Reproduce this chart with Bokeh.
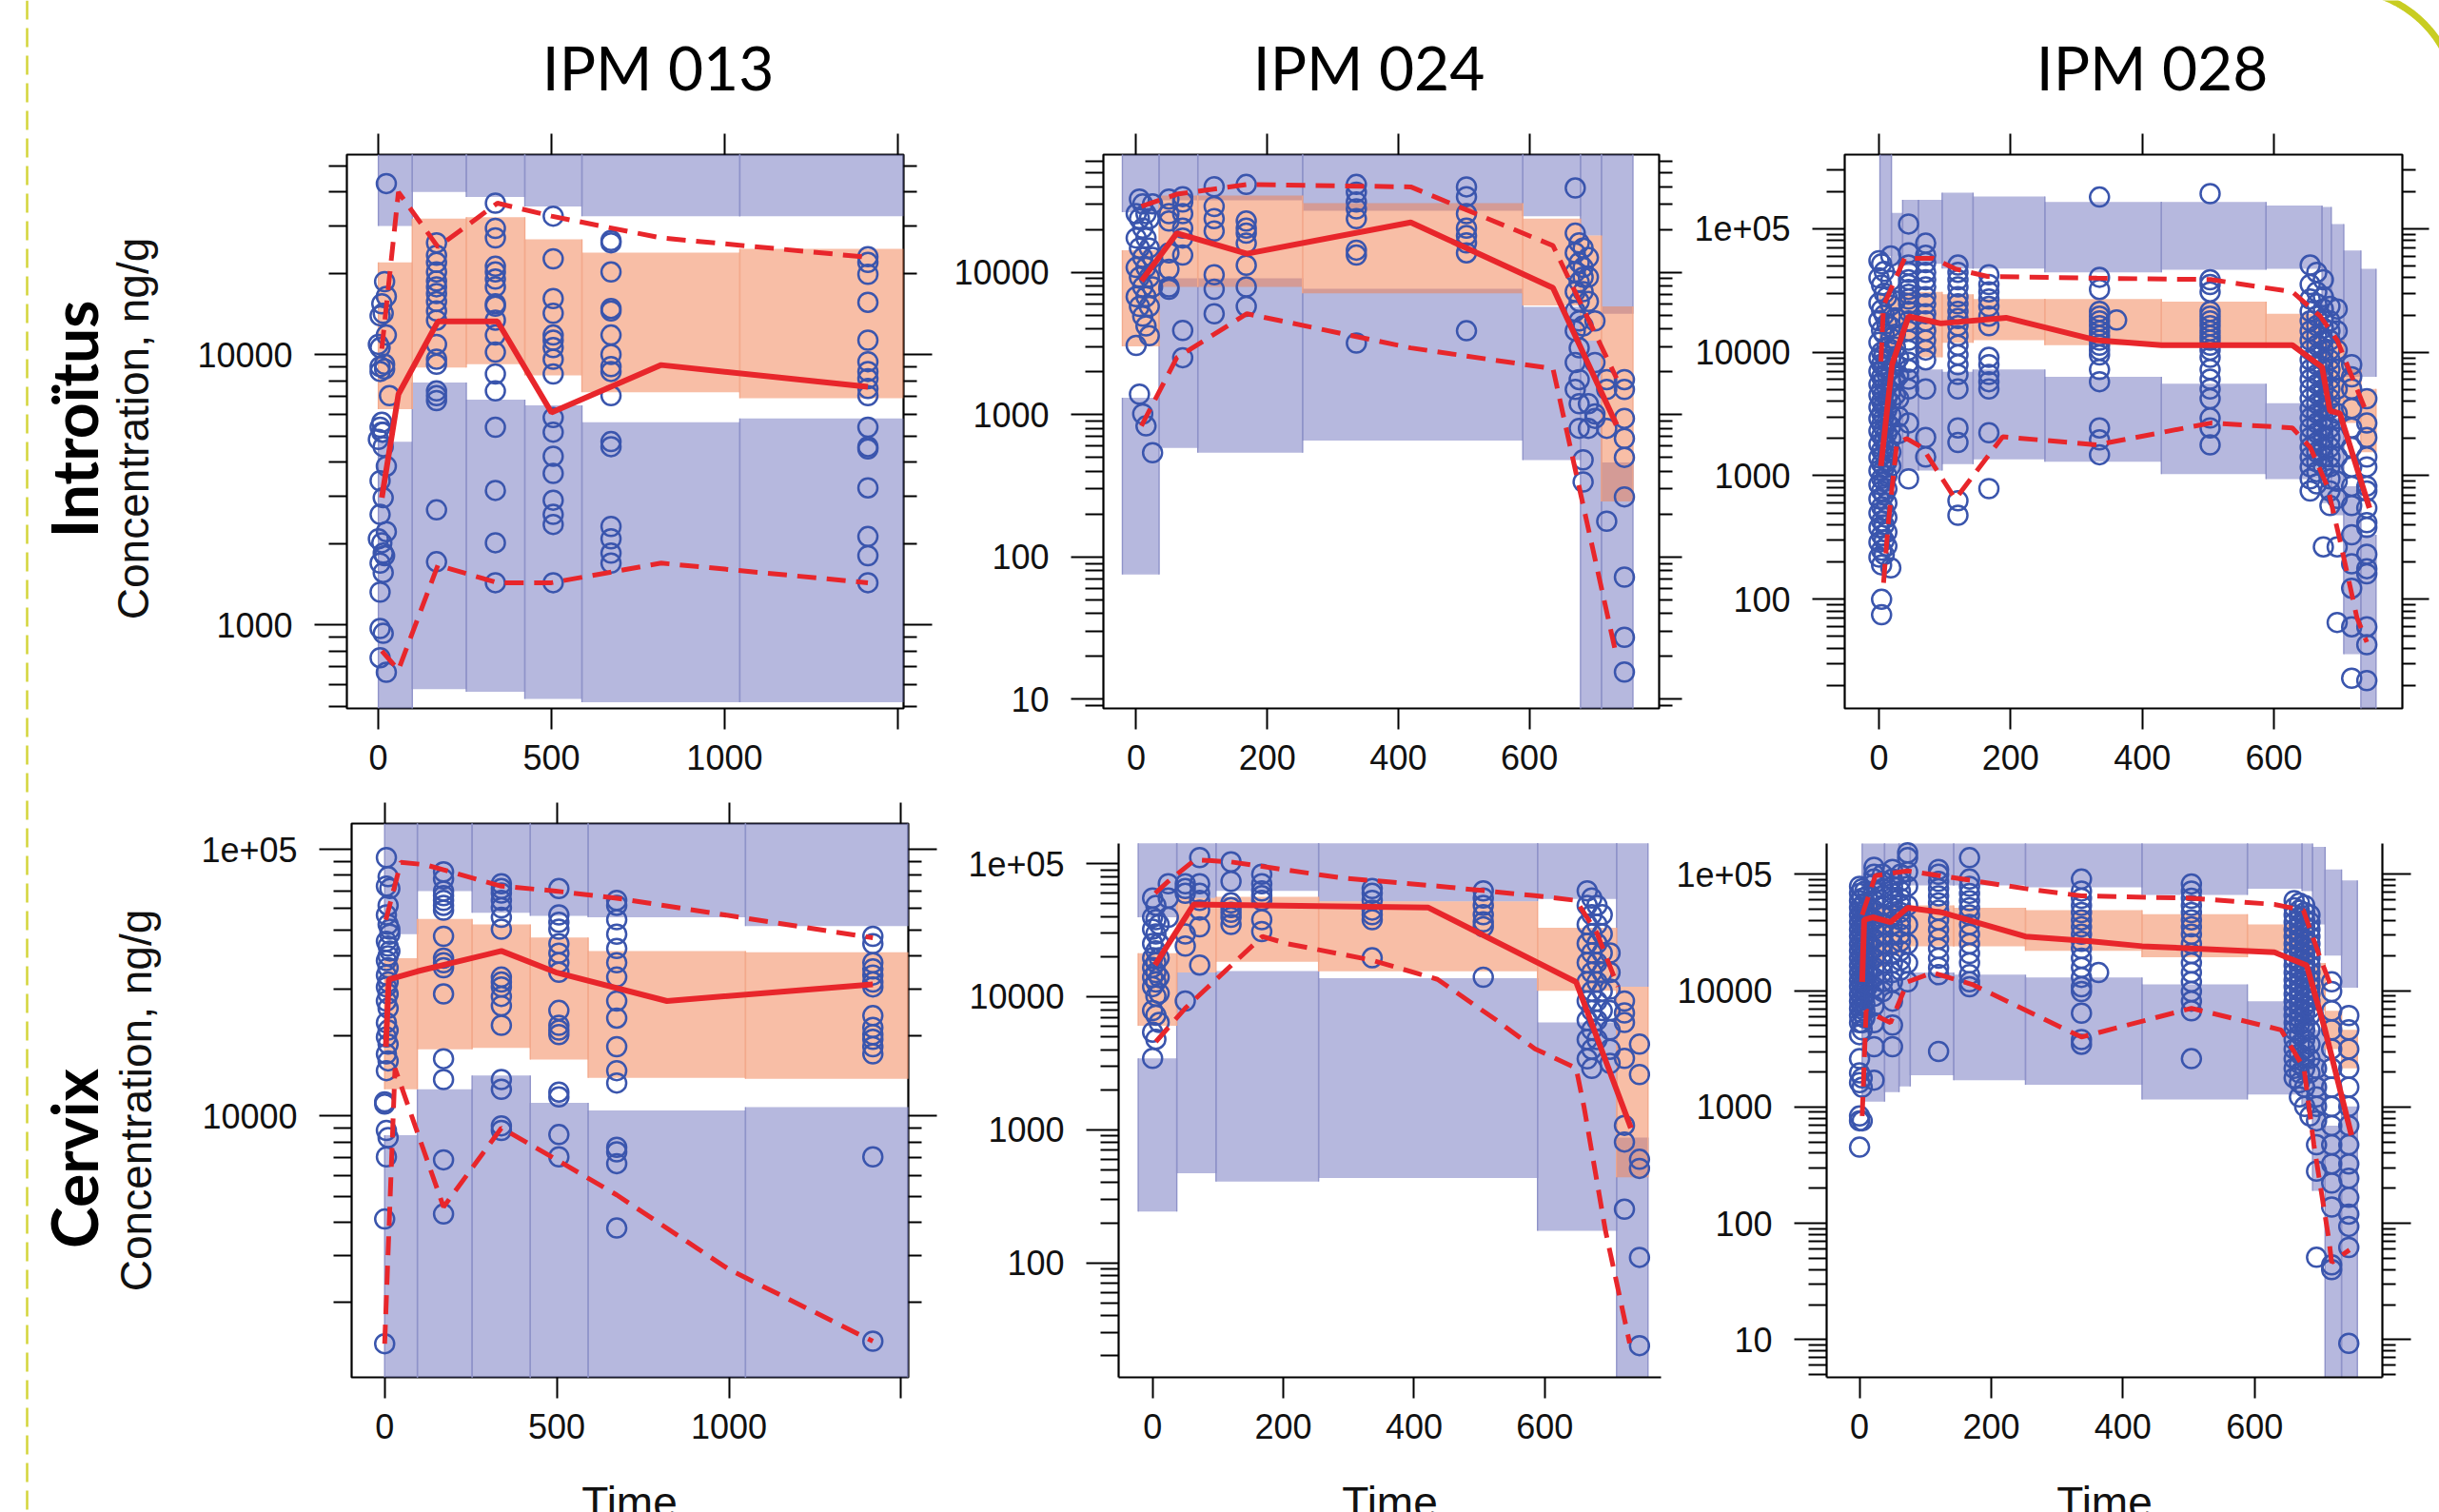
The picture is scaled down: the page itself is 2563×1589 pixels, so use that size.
import math
from bokeh.plotting import figure
from bokeh.models import Range1d, LogAxis, LinearAxis, FixedTicker
from bokeh.layouts import row, column
from bokeh.embed import file_html
from bokeh.resources import INLINE
from bokeh.core.properties import value

# ---------------- labels ----------------
STUDIES = ["IPM 013", "IPM 024", "IPM 028"]
COMPARTMENTS = ["Introïtus", "Cervix"]
Y_TITLE = "Concentration, ng/g"
X_TITLE = "Time"

# ---------------- Panel 1 : Introitus / IPM 013 ----------------
P1_x_range = (-91, 1517)
P1_y_range = (490, 54900)
P1_y_axis_top = 54900
P1_x_ticks = [0, 500, 1000, 1500]
P1_x_labels = ["0", "500", "1000", ""]
P1_y_ticks = [1000, 10000]
P1_y_labels = ["1000", "10000"]
P1_bins = [0, 98, 254, 423, 588, 1044, 1520]
P1_hi_top = [None, None, None, None, None, None]
P1_hi_bot = [29900, 39900, 38300, 35300, 32500, 32500]
P1_mid_top = [21900, 31800, 32200, 26700, 23800, 24600]
P1_mid_bot = [6270, 8950, 9210, 8370, 7250, 6890]
P1_lo_top = [4750, 7870, 6810, 6480, 5610, 5800]
P1_lo_bot = [None, 577, 565, 531, 516, 516]
P1_med_t = [10, 58, 172, 344, 500, 817, 1414]
P1_med_c = [2950, 7130, 13250, 13250, 6100, 9140, 7590]
P1_p95_t = [10, 58, 172, 344, 500, 817, 1414]
P1_p95_c = [10500, 39900, 25000, 36300, 32500, 27000, 22900]
P1_p05_t = [10, 58, 172, 344, 500, 817, 1414]
P1_p05_c = [800, 680, 1660, 1430, 1430, 1690, 1430]
P1_obs = [
    (0, [10900, 4850, 2080]),
    (5, [13900, 10600, 8650, 5380, 3410, 2560, 1690, 1320, 968, 755, 9020]),
    (10, [5610, 15400, 5160, 2010]),
    (14, [14200, 5160, 4560, 2950, 1840, 1560, 929]),
    (18, [18600, 8840, 9200, 1800]),
    (23, [42900, 16400, 11800, 3860, 2210, 667]),
    (32, [7040]),
    (168, [25900, 23300, 21900, 20200, 18700, 17800, 16800, 15700, 14500, 13400, 10900, 9600, 9200, 7330, 7040, 6750, 2660, 1710]),
    (338, [36300, 29300, 27000, 21200, 20200, 19000, 17800, 15400, 15100, 13400, 11800, 10200, 8470, 7330, 5380, 3140, 2010, 1430]),
    (505, [32500, 22600, 16100, 14200, 11800, 11300, 10600, 9600, 8470, 5840, 5160, 4200, 3630, 2890, 2560, 2350, 1430]),
    (672, [26400, 25900, 20200, 14800, 14500, 11800, 10000, 9020, 8650, 7040, 4760, 4560, 2310, 2080, 1840, 1690]),
    (1414, [23000, 21900, 19800, 15600, 11300, 9400, 8650, 8130, 7480, 7040, 5380, 4560, 4470, 3210, 2120, 1800, 1430]),
]

# ---------------- Panel 2 : Introitus / IPM 024 ----------------
P2_x_range = (-50, 798)
P2_y_range = (8.6, 67100)
P2_y_axis_top = 67100
P2_x_ticks = [0, 200, 400, 600]
P2_x_labels = ["0", "200", "400", "600"]
P2_y_ticks = [10, 100, 1000, 10000]
P2_y_labels = ["10", "100", "1000", "10000"]
P2_bins = [-21, 35, 94, 254, 590, 678, 710, 758]
P2_hi_top = [None, None, None, None, None, None, None]
P2_hi_bot = [26400, 32000, 32000, 27100, 24800, 18100, 5110]
P2_mid_top = [14300, 34600, 34600, 30600, 23800, 18100, 5750]
P2_mid_bot = [3010, 7900, 7900, 7100, 5850, 3310, 245]
P2_lo_top = [1310, 9070, 9070, 7660, 5700, 3310, 460]
P2_lo_bot = [75, 583, 539, 656, 479, None, None]
P2_med_t = [8, 62, 169, 419, 636, 733]
P2_med_c = [8680, 18800, 13500, 22400, 7770, 845]
P2_p95_t = [8, 62, 169, 419, 636, 733]
P2_p95_c = [29000, 35400, 41400, 39800, 15400, 1800]
P2_p05_t = [8, 62, 169, 419, 636, 733]
P2_p05_c = [832, 2510, 5110, 2940, 2100, 20]
P2_obs = [
    (0, [25800, 17400, 10800, 6740, 3060]),
    (5, [32700, 23800, 14800, 9240, 5750, 1390]),
    (10, [30200, 20400, 12700, 7890, 4910, 1010]),
    (15, [25800, 17400, 10800, 6740, 4200, 832]),
    (20, [23800, 14800, 9240, 5750, 3580]),
    (25, [30200, 12700, 7890, 539]),
    (50, [32700, 25800, 22900, 13700, 10500, 7890, 7590]),
    (71, [34000, 31200, 25800, 20400, 17400, 13200, 3900, 2510]),
    (119, [39900, 29000, 23800, 19500, 9610, 7590, 5110]),
    (168, [41400, 22900, 20400, 18800, 16000, 11200, 7890, 5750]),
    (336, [41400, 36500, 31200, 27900, 23800, 14300, 13200, 3180]),
    (504, [39800, 34000, 25800, 20400, 18100, 16100, 13700, 3880]),
    (670, [39100, 18800, 13700, 10000, 7300, 5330, 3880, 2320, 1500]),
    (676, [16100, 11700, 8540, 6240, 4550, 2940, 1760, 1190, 800]),
    (682, [14800, 10800, 9240, 7300, 4200, 480, 336]),
    (690, [12700, 9240, 6240, 1190, 800]),
    (700, [4550, 2320, 1010, 940]),
    (718, [1760, 1500, 800, 178]),
    (745, [1760, 1500, 940, 680, 500, 264, 72, 27.2, 15.5]),
]

# ---------------- Panel 3 : Introitus / IPM 028 ----------------
P3_x_range = (-52, 795)
P3_y_range = (13.1, 397000)
P3_y_axis_top = 397000
P3_x_ticks = [0, 200, 400, 600]
P3_x_labels = ["0", "200", "400", "600"]
P3_y_ticks = [100, 1000, 10000, 100000]
P3_y_labels = ["100", "1000", "10000", "1e+05"]
P3_bins = [1.5, 19, 36, 60, 96, 143, 252, 429, 588, 673, 687, 706, 732, 755]
P3_hi_top = [None, 134000, 171000, 171000, 195000, 182000, 164000, 164000, 154000, 150000, 109000, 66500, 47200]
P3_hi_bot = [60000, 52000, 50000, 52000, 47500, 47500, 44300, 46400, 47200, 21400, 11900, 6320, 6320]
P3_mid_top = [30000, 28000, 30800, 30800, 29400, 26900, 26900, 25700, 20500, 12500, 12500, 7240, 5040]
P3_mid_bot = [9000, 11000, 12500, 9080, 11900, 12500, 11400, 10900, 10900, 3200, 3200, 2670, 1550]
P3_lo_top = [5000, 6900, 7000, 7240, 6930, 7240, 6320, 5550, 3870, 3870, 2930, 824, 333]
P3_lo_bot = [460, 1080, 1100, 1100, 1240, 1360, 1300, 1030, 940, 600, 479, 36, None]
P3_med_t = [3, 20, 45, 94, 193, 331, 429, 628, 673, 685, 700, 745]
P3_med_c = [1200, 8000, 19500, 17100, 19000, 12500, 11400, 11400, 7570, 3350, 3200, 548]
P3_p95_t = [3, 7, 39, 82, 116, 165, 331, 504, 628, 670, 696, 741]
P3_p95_c = [8400, 23800, 57500, 57500, 47200, 41000, 39700, 38700, 30800, 19600, 12500, 3200]
P3_p05_t = [7, 14, 27, 42, 66, 116, 188, 331, 504, 628, 655, 681, 700, 726, 741]
P3_p05_c = [136, 405, 1810, 2000, 1690, 647, 2070, 1780, 2670, 2440, 1700, 824, 304, 71, 45]
P3_obs = [
    (0, [55000, 40000, 25000, 18000, 12000, 9000, 7000, 5500, 4500, 3600, 2900, 2300, 1800, 1400, 1100, 850, 650, 500, 380, 290, 220]),
    (4, [52000, 35000, 22000, 15000, 10000, 8000, 6300, 5000, 4000, 3200, 2600, 2100, 1600, 1250, 950, 750, 560, 430, 330, 250, 190, 100, 75]),
    (8, [45000, 30000, 20000, 14000, 9500, 7500, 6000, 4700, 3800, 3000, 2400, 1900, 1500, 1150, 900, 700, 520, 400, 300, 230]),
    (12, [28000, 17000, 11000, 8500, 6700, 5200, 4200, 3400, 2700, 2200, 1700, 1300, 1000, 780, 600, 460, 350, 270]),
    (18, [60000, 38000, 24000, 16000, 13000, 10500, 8800, 7200, 5800, 4800, 3900, 3100, 2500, 2000, 1550, 1200, 180]),
    (25, [26000, 19000, 14000, 11000, 8000, 6000, 4500]),
    (30, [9000, 6500, 4200, 3000, 2200]),
    (45, [109000, 63600, 50700, 44300, 38600, 35300, 32200, 29400, 26900, 24600, 21400, 17900, 14900, 12500, 10400, 8290, 7240, 6040, 5040, 2670, 944]),
    (71, [76200, 60800, 53100, 44300, 38600, 33700, 28100, 24600, 20500, 17900, 14900, 12500, 10400, 8670, 5040, 2040, 1420]),
    (120, [50700, 44300, 38600, 33700, 28100, 24600, 21400, 18700, 16400, 13600, 11400, 9500, 7920, 6610, 5040, 2440, 1860, 628, 479]),
    (167, [42300, 35300, 30800, 26900, 23500, 19600, 16400, 9080, 7920, 6610, 5770, 5040, 2230, 787]),
    (335, [180000, 40400, 32200, 21400, 19600, 17900, 16400, 14900, 13600, 12500, 11400, 10400, 9500, 7240, 5770, 2440, 1950, 1480]),
    (361, [18200]),
    (503, [192000, 38600, 35300, 30800, 21400, 19600, 17900, 16400, 14900, 13600, 12500, 11400, 10400, 9080, 7240, 6040, 5040, 4200, 2930, 2440, 1780]),
    (655, [50700, 35300, 26900, 21400, 17900, 14900, 12500, 10400, 8670, 7240, 6040, 5040, 4200, 3510, 2930, 2440, 2040, 1700, 1420, 1180, 944, 752]),
    (665, [44300, 30800, 24600, 19600, 16400, 13600, 11400, 9500, 7920, 6610, 5520, 4600, 3840, 3200, 2670, 2230, 1860, 1550, 1300, 1080, 860]),
    (675, [38600, 28100, 22400, 18700, 15700, 12500, 10400, 8670, 7240, 6040, 5040, 4200, 3510, 2930, 2440, 2040, 1700, 1420, 1180, 266]),
    (685, [23500, 17900, 14900, 12500, 10400, 8670, 7240, 6040, 5040, 4200, 3510, 2930, 2440, 2040, 1700, 1420, 1180, 944, 752, 574]),
    (696, [22400, 14900, 10400, 7240, 5040, 3200, 2040, 1420, 902, 657, 266, 65]),
    (718, [7920, 6320, 5040, 3510, 2440, 1700, 1180, 824, 574, 333, 194, 123, 60, 23]),
    (741, [4200, 2670, 2040, 1420, 1180, 824, 752, 548, 418, 382, 232, 177, 161, 60, 43, 22]),
]

# ---------------- Panel 4 : Cervix / IPM 013 ----------------
P4_x_range = (-96, 1521)
P4_y_range = (1047, 125000)
P4_y_axis_top = 125000
P4_x_ticks = [0, 500, 1000, 1500]
P4_x_labels = ["0", "500", "1000", ""]
P4_y_ticks = [10000, 100000]
P4_y_labels = ["10000", "1e+05"]
P4_bins = [0, 95, 254, 423, 591, 1048, 1520]
P4_hi_top = [None, None, None, None, None, None]
P4_hi_bot = [48100, 69800, 57900, 56300, 55600, 51600]
P4_mid_top = [39100, 54900, 52300, 46700, 41600, 41100]
P4_mid_bot = [12600, 17800, 18000, 16300, 13900, 13800]
P4_lo_top = [8480, 12600, 14200, 11200, 10500, 10800]
P4_lo_bot = [None, None, None, None, None, None]
P4_med_t = [3.5, 12, 95, 339, 497, 820, 1418]
P4_med_c = [18200, 32500, 34900, 41600, 34600, 27000, 31200]
P4_p95_t = [3.5, 47, 118, 339, 497, 674, 1418]
P4_p95_c = [54400, 89500, 87600, 72800, 69800, 65600, 46600]
P4_p05_t = [0, 30, 171, 339, 497, 674, 1000, 1418]
P4_p05_c = [1400, 15100, 4560, 9020, 6890, 5060, 2660, 1430]
P4_obs = [
    (0, [1400, 4110, 11300, 11100]),
    (5, [93200, 72800, 56800, 45200, 38300, 33800, 30500, 27000, 22400, 19800, 17100, 14800, 8830, 7030]),
    (10, [79000, 61700, 52300, 43400, 39900, 36000, 31800, 28700, 25400, 21000, 18600, 16100, 8300]),
    (15, [71300, 50200, 48100, 41600]),
    (171, [82400, 77400, 69800, 67100, 64400, 61700, 59200, 47200, 39100, 37600, 36000, 28700, 16400, 13700, 6850, 4290]),
    (339, [74300, 71300, 68600, 64400, 60400, 55600, 50200, 33200, 31800, 30500, 28100, 25900, 21900, 13700, 12600, 9190, 8830]),
    (506, [71300, 56800, 53300, 50200, 44300, 40800, 37600, 34600, 24900, 21900, 21000, 20200, 12300, 11800, 8520, 7030]),
    (674, [64400, 61700, 54500, 48100, 42500, 37600, 33200, 27000, 23300, 18200, 14800, 13300, 7630, 7340, 6630, 3800]),
    (1418, [47200, 44300, 37600, 35600, 33800, 31800, 30500, 23800, 21500, 20200, 19400, 18200, 17100, 7030, 1430]),
]

# ---------------- Panel 5 : Cervix / IPM 024 ----------------
P5_x_range = (-52, 778)
P5_y_range = (13.8, 200000)
P5_y_axis_top = 142000
P5_x_ticks = [0, 200, 400, 600]
P5_x_labels = ["0", "200", "400", "600"]
P5_y_ticks = [100, 1000, 10000, 100000]
P5_y_labels = ["100", "1000", "10000", "1e+05"]
P5_bins = [-22, 37, 97, 254, 589, 710, 758]
P5_hi_top = [142000, 142000, 142000, 142000, 142000, 142000]
P5_hi_bot = [39500, 55100, 62400, 52000, 54200, 11900]
P5_mid_top = [21200, 55100, 56400, 52000, 33000, 11900]
P5_mid_bot = [6040, 15200, 18300, 15500, 11100, 440]
P5_lo_top = [3440, 15200, 15600, 13800, 6400, 875]
P5_lo_bot = [243, 471, 409, 434, 174, None]
P5_med_t = [3.7, 63, 422, 648, 732]
P5_med_c = [17300, 49400, 46700, 12900, 1030]
P5_p95_t = [4, 24, 65, 120, 290, 436, 585, 648, 680, 712]
P5_p95_c = [59900, 73600, 107000, 103000, 78000, 67800, 57400, 52900, 30000, 11900]
P5_p05_t = [5, 50, 168, 205, 336, 436, 526, 585, 648, 660, 693, 730]
P5_p05_c = [4590, 8200, 28400, 25100, 18800, 13500, 6670, 4060, 2910, 1500, 174, 24.9]
P5_obs = [
    (0, [55100, 39500, 32200, 25100, 19600, 16600, 14000, 11900, 7870, 5420, 3440]),
    (5, [48600, 37900, 29600, 22100, 18000, 15200, 12900, 10100, 7250, 4790]),
    (10, [34900, 25100, 19600, 14000, 10600, 6400]),
    (24, [70600, 55100, 39500]),
    (50, [70600, 64900, 59800, 29600, 24000, 9290]),
    (72, [111000, 70600, 59800, 52900, 44800, 33500, 17300]),
    (120, [103000, 73600, 50700, 46700, 43100, 39500, 34900]),
    (167, [83300, 70600, 62400, 57400, 52900, 37900, 30900]),
    (336, [64900, 59800, 52900, 44800, 41300, 37900, 19600]),
    (506, [62400, 55100, 48600, 41300, 36500, 33500, 14000]),
    (665, [62400, 48600, 34900, 25100, 18000, 12900, 9290, 6650, 4770, 3410]),
    (672, [55100, 41300, 29600, 21300, 15200, 11000, 7860, 5630, 4030, 2890]),
    (680, [48600, 34900, 25100, 18000, 12900, 9290, 6650, 4770]),
    (688, [41300, 29600, 21300, 15200, 11000, 7860]),
    (700, [21300, 15200, 11400, 7860, 5630, 4030, 3160]),
    (722, [9290, 7550, 6400, 3440, 1080, 810, 253]),
    (745, [4400, 2600, 600, 513, 110, 23.9]),
]

# ---------------- Panel 6 : Cervix / IPM 028 ----------------
P6_x_range = (-50, 794)
P6_y_range = (4.74, 273000)
P6_y_axis_top = 184000
P6_x_ticks = [0, 200, 400, 600]
P6_x_labels = ["0", "200", "400", "600"]
P6_y_ticks = [10, 100, 1000, 10000, 100000]
P6_y_labels = ["10", "100", "1000", "10000", "1e+05"]
P6_bins = [4, 38, 60, 77, 143, 252, 429, 589, 672, 688, 707, 732, 756]
P6_hi_top = [184000, 184000, 184000, 184000, 184000, 184000, 184000, 184000, 184000, 172000, 110000, 88400]
P6_hi_bot = [75000, 80400, 86800, 80400, 80400, 77400, 66600, 75300, 71800, 37000, 20000, 10600]
P6_mid_top = [54000, 54000, 52000, 54000, 51600, 49100, 45500, 37000, 33600, 17300, 6710, 4600]
P6_mid_bot = [15800, 20000, 22000, 24100, 24100, 22000, 19400, 22000, 17300, 6710, 3150, 2150]
P6_lo_top = [14300, 13000, 13000, 14300, 13700, 13000, 11300, 8120, 6710, 4600, 692, 1010]
P6_lo_bot = [1110, 1340, 1500, 1870, 1700, 1550, 1160, 1280, 1010, 190, None, None]
P6_med_t = [4, 7, 20, 47, 73, 126, 252, 352, 429, 630, 679, 706, 747]
P6_med_c = [11900, 40600, 42700, 38700, 51600, 46900, 29200, 26500, 24100, 21400, 16500, 4820, 571]
P6_p95_t = [4, 24, 73, 156, 252, 337, 504, 630, 674, 697, 719]
P6_p95_c = [44700, 97200, 107000, 91000, 75300, 65300, 62300, 55100, 49100, 20900, 9820]
P6_p05_t = [4, 10, 47, 73, 111, 171, 254, 337, 504, 640, 675, 690, 713, 717, 744]
P6_p05_c = [836, 6710, 5300, 11900, 14300, 11300, 6710, 3990, 7050, 4600, 2150, 473, 71, 46, 59]
P6_obs = [
    (0, [78900, 68500, 59400, 51600, 44700, 38700, 33600, 29200, 25300, 22000, 19000, 16500, 14300, 12400, 10800, 9360, 8120, 7050, 6110, 5300, 4180, 2600, 1960, 1620, 836, 760, 451]),
    (4, [75300, 62300, 54000, 46900, 40600, 35300, 30600, 26500, 23000, 20000, 17300, 15000, 13000, 11300, 9820, 8510, 7380, 6410, 5300, 4600, 1780, 1480, 760]),
    (8, [71800, 56700, 49100, 42700, 37000, 32100, 27800, 24100, 20900, 18200, 15800, 13700, 11900, 10300, 8930, 7740, 6710, 5830]),
    (12, [65300, 51600, 44700, 33600, 25300, 19000, 14300, 10800]),
    (22, [115000, 100000, 91000, 82700, 71800, 59400, 49100, 40600, 33600, 27800, 23000, 19000, 15800, 13000, 10800, 8930, 7380, 5300, 3300, 1700]),
    (35, [100000, 86800, 75300, 65300, 54000, 44700, 37000, 30600, 25300, 20900, 17300, 14300, 11900, 9820]),
    (50, [110000, 91000, 78900, 68500, 59400, 51600, 44700, 37000, 30600, 25300, 20900, 17300, 14300, 11900, 8120, 5060, 3300]),
    (62, [100000, 86800, 71800, 62300, 54000, 47000, 40600, 35300, 30600, 26500, 22000, 18200, 15000]),
    (73, [153000, 139000, 105000, 78900, 54000, 37000, 25300, 17300, 11900]),
    (120, [110000, 100000, 86800, 75300, 65300, 56700, 49100, 40600, 33600, 27800, 23000, 19000, 15800, 13700, 3000]),
    (167, [139000, 91000, 78900, 68500, 59400, 51600, 44700, 37000, 30600, 25300, 20900, 17300, 13700, 11900, 10800]),
    (337, [91000, 71800, 62300, 54000, 46900, 40600, 35300, 30600, 26500, 23000, 19000, 15800, 13000, 10800, 9820, 6410, 3800, 3460]),
    (363, [14300]),
    (504, [82700, 71800, 62300, 54000, 46900, 40600, 35300, 30600, 25300, 20900, 17300, 14300, 11900, 9820, 8120, 6710, 2600]),
    (660, [59400, 51600, 44700, 38700, 33600, 29200, 25300, 22000, 19000, 16500, 14300, 12400, 10800, 9360, 8120, 7050, 6110, 5300, 4600, 3800, 3150, 2600, 2150, 1780]),
    (668, [56700, 49100, 42700, 37000, 32100, 27800, 24100, 20900, 18200, 15800, 13700, 11900, 10300, 8930, 7740, 6710, 5830, 5060, 4180, 3460, 2860, 2360, 1960, 1620, 1220]),
    (676, [54000, 46900, 40600, 35300, 30600, 26500, 23000, 20000, 17300, 15000, 13000, 11300, 9820, 8510, 7380, 6410, 5300, 4600, 3800, 3150, 2600, 2150, 1480, 1010]),
    (684, [44700, 38700, 33600, 29200, 25300, 22000, 19000, 16500, 14300, 12400, 10800, 9360, 8120, 7050, 6110, 4600, 3460, 2600, 1960, 836]),
    (694, [2150, 1480, 1220, 1010, 760, 473, 281, 51]),
    (717, [11900, 9820, 6710, 4600, 3150, 2150, 1480, 1010, 692, 473, 324, 222, 138, 44, 40]),
    (743, [6110, 4600, 3150, 2150, 1480, 1010, 692, 473, 324, 244, 167, 120, 94, 62, 9.3]),
]

# ---------------- styles ----------------
BLUE_FILL = "#6d72bd"
BLUE_EDGE = "#8f93c9"
ORANGE_FILL = "#f17d4d"
ORANGE_EDGE = "#f3a98c"
POINT_COLOR = "#3a55ad"
RED = "#e8262b"
TICK_FONT = "Liberation Sans"


def make_ticks(lo_v, hi_v):
    lo = int(math.floor(math.log10(lo_v)))
    hi = int(math.ceil(math.log10(hi_v)))
    majors = [10.0 ** k for k in range(lo, hi + 1) if lo_v <= 10.0 ** k <= hi_v]
    minors = [m * 10.0 ** k for k in range(lo, hi + 1) for m in range(2, 10)
              if lo_v <= m * 10.0 ** k <= hi_v]
    return majors, minors


def blank_labels(ticks):
    return {t: "" for t in ticks}


def panel(width, height, mb, xr, yr, y_top, xt, xl, yt, yl, bins, hi_top, hi_bot,
          mid_top, mid_bot, lo_top, lo_bot, med, p95, p05, obs,
          top_ticks=True, right_ticks=True, outline=True, right_len=26):
    p = figure(width=width, height=height, x_range=Range1d(*xr), y_range=Range1d(*yr),
               y_axis_type="log", toolbar_location=None, output_backend="svg", title=None,
               min_border_left=mb[0], min_border_right=mb[1],
               min_border_top=mb[2], min_border_bottom=mb[3])
    p.xgrid.visible = False
    p.ygrid.visible = False
    p.background_fill_color = "white"
    p.border_fill_color = "white"
    p.outline_line_color = "black" if outline else None
    p.outline_line_width = 2.2

    lo_lim = yr[0] / 100.0
    hi_lim = yr[1] * 100.0
    L = bins[:-1]
    R = bins[1:]

    def fix(vals, default):
        return [default if v is None else v for v in vals]

    bands = [(hi_top, hi_bot, BLUE_FILL, BLUE_EDGE), (lo_top, lo_bot, BLUE_FILL, BLUE_EDGE),
             (mid_top, mid_bot, ORANGE_FILL, ORANGE_EDGE)]
    for top, bot, fc, ec in bands:
        t = fix(top, hi_lim)
        b = fix(bot, lo_lim)
        p.quad(left=L, right=R, top=t, bottom=b, fill_color=fc, fill_alpha=0.5, line_color=None)
        p.segment(x0=L + R, x1=L + R, y0=b + b, y1=t + t, line_color=ec, line_width=1.4)

    xs, ys = [], []
    for t, cs in obs:
        for c in cs:
            xs.append(t)
            ys.append(c)
    p.scatter(xs, ys, marker="circle", size=20, fill_color=None,
              line_color=POINT_COLOR, line_width=2.5)

    p.line(p95[0], p95[1], line_color=RED, line_width=5, line_dash="20 11")
    p.line(p05[0], p05[1], line_color=RED, line_width=5, line_dash="20 11")
    p.line(med[0], med[1], line_color=RED, line_width=6)

    majors, minors = make_ticks(yr[0], y_top)
    overrides = blank_labels(majors)
    for v, s in zip(yt, yl):
        overrides[float(v)] = s

    yax = p.yaxis[0]
    yax.ticker = FixedTicker(ticks=majors, minor_ticks=minors)
    yax.bounds = (yr[0], y_top)
    yax.major_label_overrides = overrides
    yax.major_label_text_font = TICK_FONT
    yax.major_label_text_font_size = "36px"
    yax.major_label_text_color = "#111111"
    yax.major_label_standoff = 23
    yax.major_tick_out = 34
    yax.major_tick_in = 0
    yax.minor_tick_out = 19
    yax.minor_tick_in = 0
    yax.major_tick_line_width = 2
    yax.minor_tick_line_width = 2
    yax.major_tick_line_color = "black"
    yax.minor_tick_line_color = "black"
    yax.axis_line_color = None if outline else "black"
    yax.axis_line_width = 2.2

    xax = p.xaxis[0]
    xax.ticker = FixedTicker(ticks=xt, minor_ticks=[])
    xax.major_label_overrides = {v: s for v, s in zip(xt, xl)}
    xax.major_label_text_font = TICK_FONT
    xax.major_label_text_font_size = "36px"
    xax.major_label_text_color = "#111111"
    xax.major_label_standoff = 16
    xax.major_tick_out = 22
    xax.major_tick_in = 0
    xax.minor_tick_out = 0
    xax.minor_tick_in = 0
    xax.major_tick_line_width = 2
    xax.axis_line_color = None if outline else "black"
    xax.axis_line_width = 2.2

    if top_ticks:
        ta = LinearAxis(ticker=FixedTicker(ticks=xt, minor_ticks=[]),
                        major_label_overrides=blank_labels(xt),
                        major_label_text_font_size="2px", major_label_standoff=0,
                        major_tick_out=22, major_tick_in=0, minor_tick_out=0, minor_tick_in=0,
                        major_tick_line_width=2, axis_line_color=None)
        p.add_layout(ta, "above")
    if right_ticks:
        ra = LogAxis(ticker=FixedTicker(ticks=majors, minor_ticks=minors),
                     bounds=(yr[0], y_top),
                     major_label_overrides=blank_labels(majors),
                     major_label_text_font_size="2px", major_label_standoff=0,
                     major_tick_out=right_len, major_tick_in=0, minor_tick_out=14, minor_tick_in=0,
                     major_tick_line_width=2, minor_tick_line_width=2,
                     axis_line_color=None if outline else "black", axis_line_width=2.2)
        p.add_layout(ra, "right")
    return p


p1 = panel(798, 718, (176, 37, 42, 94), P1_x_range, P1_y_range, P1_y_axis_top, P1_x_ticks, P1_x_labels,
           P1_y_ticks, P1_y_labels, P1_bins, P1_hi_top, P1_hi_bot, P1_mid_top, P1_mid_bot,
           P1_lo_top, P1_lo_bot, (P1_med_t, P1_med_c), (P1_p95_t, P1_p95_c),
           (P1_p05_t, P1_p05_c), P1_obs, right_len=30)
p2 = panel(783, 718, (173, 26, 42, 94), P2_x_range, P2_y_range, P2_y_axis_top, P2_x_ticks, P2_x_labels,
           P2_y_ticks, P2_y_labels, P2_bins, P2_hi_top, P2_hi_bot, P2_mid_top, P2_mid_bot,
           P2_lo_top, P2_lo_bot, (P2_med_t, P2_med_c), (P2_p95_t, P2_p95_c),
           (P2_p05_t, P2_p05_c), P2_obs, right_len=24)
p3 = panel(794, 718, (169, 39, 42, 94), P3_x_range, P3_y_range, P3_y_axis_top, P3_x_ticks, P3_x_labels,
           P3_y_ticks, P3_y_labels, P3_bins, P3_hi_top, P3_hi_bot, P3_mid_top, P3_mid_bot,
           P3_lo_top, P3_lo_bot, (P3_med_t, P3_med_c), (P3_p95_t, P3_p95_c),
           (P3_p05_t, P3_p05_c), P3_obs, right_len=28)
p4 = panel(812, 702, (181, 46, 27, 93), P4_x_range, P4_y_range, P4_y_axis_top, P4_x_ticks, P4_x_labels,
           P4_y_ticks, P4_y_labels, P4_bins, P4_hi_top, P4_hi_bot, P4_mid_top, P4_mid_bot,
           P4_lo_top, P4_lo_bot, (P4_med_t, P4_med_c), (P4_p95_t, P4_p95_c),
           (P4_p05_t, P4_p05_c), P4_obs, right_len=30)
p5 = panel(750, 702, (175, 5, 27, 93), P5_x_range, P5_y_range, P5_y_axis_top, P5_x_ticks, P5_x_labels,
           P5_y_ticks, P5_y_labels, P5_bins, P5_hi_top, P5_hi_bot, P5_mid_top, P5_mid_bot,
           P5_lo_top, P5_lo_bot, (P5_med_t, P5_med_c), (P5_p95_t, P5_p95_c),
           (P5_p05_t, P5_p05_c), P5_obs, top_ticks=False, right_ticks=False, outline=False)
p6 = panel(813, 702, (169, 60, 27, 93), P6_x_range, P6_y_range, P6_y_axis_top, P6_x_ticks, P6_x_labels,
           P6_y_ticks, P6_y_labels, P6_bins, P6_hi_top, P6_hi_bot, P6_mid_top, P6_mid_bot,
           P6_lo_top, P6_lo_bot, (P6_med_t, P6_med_c), (P6_p95_t, P6_p95_c),
           (P6_p05_t, P6_p05_c), P6_obs, top_ticks=False, right_ticks=True, outline=False,
           right_len=30)


def strip(width, height, xr, yr):
    s = figure(width=width, height=height, x_range=Range1d(*xr), y_range=Range1d(*yr),
               toolbar_location=None, output_backend="svg", min_border=0, title=None)
    s.axis.visible = False
    s.grid.visible = False
    s.outline_line_color = None
    s.background_fill_color = "white"
    s.border_fill_color = "white"
    return s


# title strip (screen pixel coordinates, y downwards)
title_strip = strip(2375, 120, (188, 2563), (120, 0))
title_strip.text(x=[691, 1438, 2261], y=[70, 70, 70], text=STUDIES,
                 text_font=value("Lato"), text_font_size=value("64px"),
                 text_align="center", text_baseline="middle", text_color="black")
arc_t = [math.radians(a) for a in range(15, 80)]
title_strip.line([2460 + 122 * math.cos(a) for a in arc_t], [110 - 122 * math.sin(a) for a in arc_t],
                 line_color="#c8cd22", line_width=7)

# left strip with compartment labels
left_strip = strip(188, 1589, (0, 188), (1589, 0))
left_strip.line([28, 28], [0, 1589], line_color="#d3d43a", line_width=2.5, line_dash="20 9")
left_strip.text(x=[77, 77], y=[440, 1217], text=COMPARTMENTS, angle=math.pi / 2,
                text_font=value("Lato"), text_font_style="bold", text_font_size=value("66px"),
                text_align="center", text_baseline="middle", text_color="black")
left_strip.text(x=[139, 142], y=[450, 1156], text=[Y_TITLE, Y_TITLE], angle=math.pi / 2,
                text_font=value(TICK_FONT), text_font_size=value("46px"),
                text_align="center", text_baseline="middle", text_color="#111111")

# bottom strip with the (cut) Time labels
bottom_strip = strip(2375, 49, (188, 2563), (1589, 1540))
bottom_strip.text(x=[661, 1460, 2211], y=[1552, 1552, 1552], text=[X_TITLE] * 3,
                  text_font=value(TICK_FONT), text_font_size=value("46px"),
                  text_align="center", text_baseline="top", text_color="#111111")

layout = row(left_strip, column(title_strip, row(p1, p2, p3), row(p4, p5, p6), bottom_strip))

open("out.html", "w").write(file_html(layout, INLINE))
